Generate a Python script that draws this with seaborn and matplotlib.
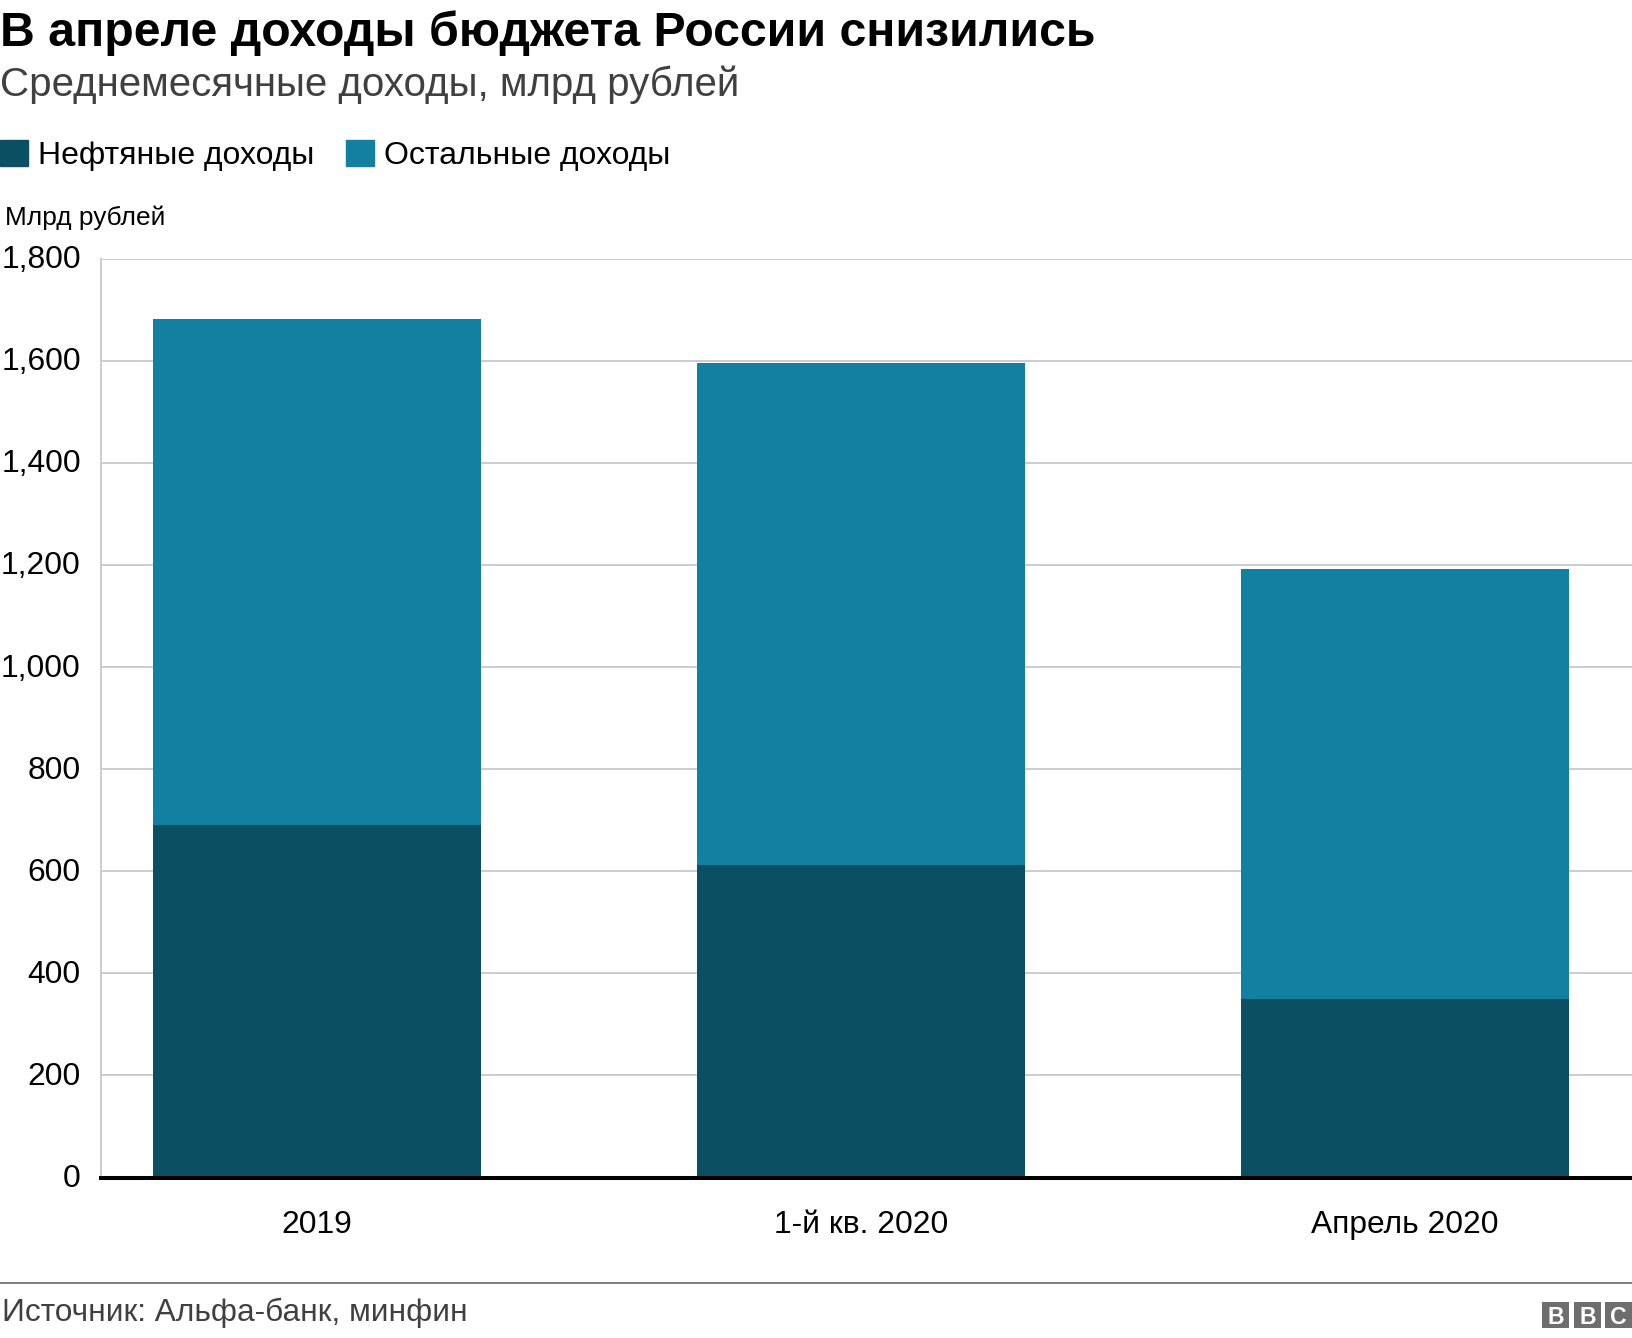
import numpy as np
import pandas as pd
import seaborn as sns
import matplotlib.pyplot as plt
from matplotlib.lines import Line2D
from matplotlib.patches import Patch, Rectangle
from matplotlib.transforms import ScaledTranslation

categories = ['2019', '1-й кв. 2020', 'Апрель 2020']
oil_income = [690, 612, 349]
other_income = [992, 983, 843]
y_ticks = [0, 200, 400, 600, 800, 1000, 1200, 1400, 1600, 1800]
y_labels = ['0', '200', '400', '600', '800', '1,000', '1,200', '1,400', '1,600', '1,800']

title = 'В апреле доходы бюджета России снизились'
subtitle = 'Среднемесячные доходы, млрд рублей'
unit_label = 'Млрд рублей'
source = 'Источник: Альфа-банк, минфин'
legend_labels = ['Нефтяные доходы', 'Остальные доходы']

DARK = '#0b4f63'
LIGHT = '#1380a1'
W, H = 1632, 1338

sns.set_theme(style='white')
plt.rcParams['font.family'] = ['Liberation Sans', 'DejaVu Sans']


# positions below are in pixels from the top left of the picture
def fx(x):
    return x / W


def fy(y):
    return 1 - y / H


def px(size):
    return size * 0.72


df = pd.DataFrame({'category': categories, 'oil': oil_income, 'other': other_income})
df['total'] = df['oil'] + df['other']

fig = plt.figure(figsize=(W / 100, H / 100), dpi=100, facecolor='white')
ax = fig.add_axes([fx(101), fy(1177.5), fx(W - 101), (1177.5 - 258.7) / H])

# stacked look: full height first, oil part over it
sns.barplot(data=df, x='category', y='total', color=LIGHT, saturation=1, width=0.603,
            linewidth=0, ax=ax, zorder=3)
sns.barplot(data=df, x='category', y='oil', color=DARK, saturation=1, width=0.603,
            linewidth=0, ax=ax, zorder=3)

ax.set_xlim(-0.397, 2.417)
ax.set_ylim(0, 1800)
ax.set_xlabel('')
ax.set_ylabel('')
ax.set_yticks(y_ticks)
ax.set_yticklabels(y_labels)
ax.grid(axis='y', color='#cccccc', linewidth=1.4, zorder=0)
ax.set_axisbelow(True)
ax.tick_params(axis='y', length=0, pad=14.5, labelsize=px(31.8), labelcolor='black')
ax.tick_params(axis='x', length=0, pad=23.5, labelsize=px(31.8), labelcolor='black')
# labels sit a little above their gridlines
for label in ax.get_yticklabels():
    label.set_transform(label.get_transform() + ScaledTranslation(0, 2 / 100, fig.dpi_scale_trans))
sns.despine(ax=ax, top=True, right=True)
ax.spines['left'].set_color('#cccccc')
ax.spines['left'].set_linewidth(1.4)
ax.spines['bottom'].set_color('black')
ax.spines['bottom'].set_linewidth(2.9)
ax.spines['bottom'].set_zorder(5)

fig.text(fx(0), fy(46), title, fontsize=px(48.2), fontweight='bold', color='black', va='baseline')
fig.text(fx(0), fy(96), subtitle, fontsize=px(40.3), color='#404040', va='baseline')
fig.text(fx(5), fy(225), unit_label, fontsize=px(26.3), color='black', va='baseline')
fig.text(fx(2), fy(1321), source, fontsize=px(31.7), color='#404040', va='baseline')

handles = [Patch(color=DARK), Patch(color=LIGHT)]
fig.legend(handles, legend_labels, loc='upper left', bbox_to_anchor=(fx(0), fy(140)),
           ncol=2, frameon=False, fontsize=px(32), borderpad=0, borderaxespad=0,
           handlelength=28 / 32, handleheight=28 / 32, handletextpad=10 / 32,
           columnspacing=32 / 32, labelcolor='black')

fig.add_artist(Line2D([0, 1], [fy(1283), fy(1283)], color='#808080', linewidth=1.4))

for letter, x0 in zip('BBC', [1542, 1574, 1605]):
    fig.add_artist(Rectangle((fx(x0), fy(1328)), 27 / W, 26 / H, transform=fig.transFigure,
                             facecolor='#6e6e6e', edgecolor='none'))
    fig.text(fx(x0 + 13.5), fy(1315), letter, fontsize=px(23), fontweight='bold',
             color='white', ha='center', va='center_baseline')

fig.savefig('out.png', dpi=100)
